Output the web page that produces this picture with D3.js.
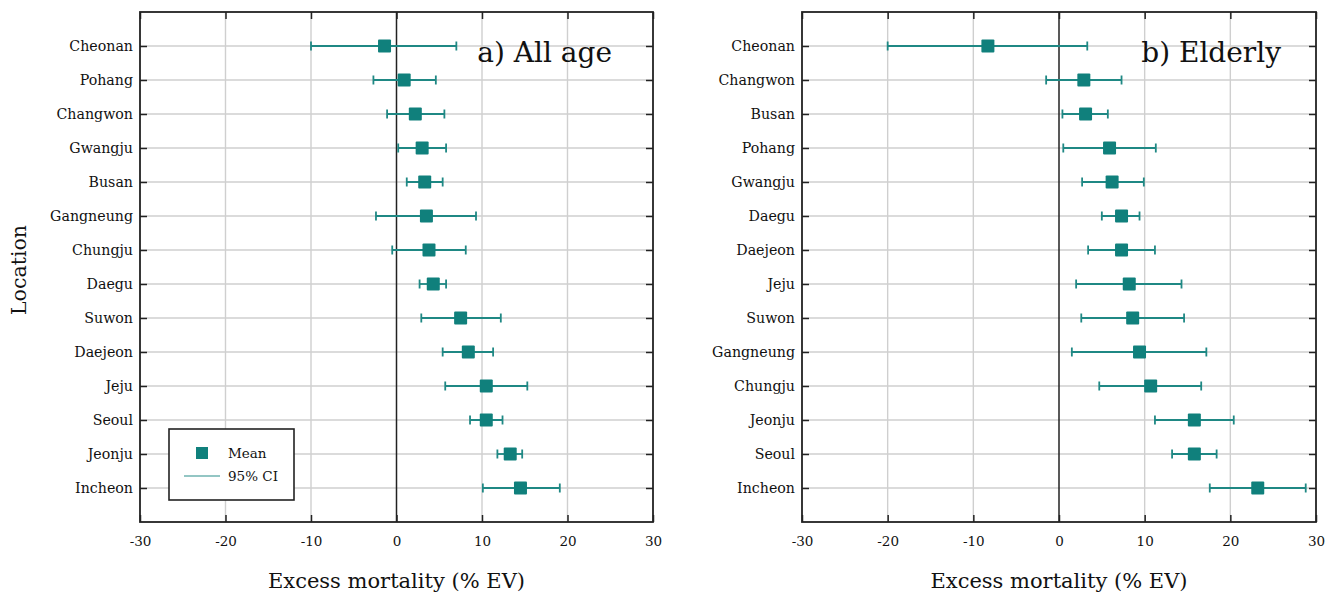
<!DOCTYPE html>
<html>
<head>
<meta charset="utf-8">
<script src="https://cdn.jsdelivr.net/npm/d3@7"></script>
<style>
  html, body { margin: 0; padding: 0; background: #fff; }
  svg { display: block; }
  text { font-family: "DejaVu Serif", "Liberation Serif", serif; fill: #111; }
</style>
</head>
<body>
<svg id="chart" width="1338" height="597"></svg>
<script>
// ---- Data ----
const xTicks = [-30, -20, -10, 0, 10, 20, 30];

const allAgeLocations = ["Cheonan", "Pohang", "Changwon", "Gwangju", "Busan", "Gangneung", "Chungju",
                         "Daegu", "Suwon", "Daejeon", "Jeju", "Seoul", "Jeonju", "Incheon"];
const allAgeMean  = [-1.4, 0.9, 2.2, 3.0, 3.3, 3.5, 3.8, 4.3, 7.5, 8.4, 10.5, 10.5, 13.3, 14.5];
const allAgeLower = [-10.0, -2.7, -1.1, 0.2, 1.2, -2.4, -0.5, 2.7, 2.9, 5.4, 5.7, 8.6, 11.8, 10.1];
const allAgeUpper = [7.0, 4.6, 5.6, 5.8, 5.4, 9.3, 8.1, 5.8, 12.2, 11.3, 15.3, 12.4, 14.7, 19.1];

const elderlyLocations = ["Cheonan", "Changwon", "Busan", "Pohang", "Gwangju", "Daegu", "Daejeon",
                          "Jeju", "Suwon", "Gangneung", "Chungju", "Jeonju", "Seoul", "Incheon"];
const elderlyMean  = [-8.3, 2.9, 3.1, 5.9, 6.2, 7.3, 7.3, 8.2, 8.6, 9.4, 10.7, 15.8, 15.8, 23.2];
const elderlyLower = [-20.0, -1.5, 0.4, 0.5, 2.7, 5.0, 3.4, 2.0, 2.6, 1.5, 4.7, 11.2, 13.2, 17.6];
const elderlyUpper = [3.3, 7.3, 5.7, 11.3, 9.9, 9.4, 11.2, 14.3, 14.6, 17.2, 16.6, 20.4, 18.4, 28.8];

const panelTitles = ["a) All age", "b) Elderly"];
const xTitle = "Excess mortality (% EV)";
const yTitle = "Location";
const legendLabels = ["Mean", "95% CI"];

// ---- Styling ----
const teal = "#10807c";
const tealLine = "#1f8884";
const gridColor = "#cfcfcf";
const svg = d3.select("#chart");

const panels = [
  { left: 140, right: 653, names: allAgeLocations, mean: allAgeMean, lo: allAgeLower, hi: allAgeUpper, title: panelTitles[0], titleOffset: 41, showY: true, legend: true },
  { left: 802, right: 1316, names: elderlyLocations, mean: elderlyMean, lo: elderlyLower, hi: elderlyUpper, title: panelTitles[1], titleOffset: 35, showY: false, legend: false }
];
const plotTop = 12, plotBottom = 522;

panels.forEach(p => {
  const x = d3.scaleLinear().domain([-30, 30]).range([p.left, p.right]);
  const y = d3.scalePoint().domain(p.names).range([plotTop, plotBottom]).padding(1);
  const g = svg.append("g");

  // vertical grid
  g.append("g").selectAll("line").data(xTicks.filter(t => t !== -30 && t !== 30 && t !== 0)).join("line")
    .attr("x1", d => x(d)).attr("x2", d => x(d)).attr("y1", plotTop).attr("y2", plotBottom)
    .attr("stroke", gridColor).attr("stroke-width", 1.4);
  // horizontal grid
  g.append("g").selectAll("line").data(p.names).join("line")
    .attr("x1", p.left).attr("x2", p.right).attr("y1", d => y(d)).attr("y2", d => y(d))
    .attr("stroke", gridColor).attr("stroke-width", 1.4);
  // zero line
  g.append("line").attr("x1", x(0)).attr("x2", x(0)).attr("y1", plotTop).attr("y2", plotBottom)
    .attr("stroke", "#222").attr("stroke-width", 1.5);

  // axes (inward ticks)
  const bottomAxis = d3.axisBottom(x).tickValues(xTicks).tickSize(-7).tickPadding(14)
    .tickFormat(d => d < 0 ? "-" + Math.abs(d) : String(d));
  const gb = g.append("g").attr("transform", `translate(0,${plotBottom})`).call(bottomAxis);
  gb.selectAll("text").attr("font-size", 13.5).attr("font-family", "DejaVu Serif").attr("fill", "#222");
  const gt = g.append("g").attr("transform", `translate(0,${plotTop})`)
    .call(d3.axisTop(x).tickValues(xTicks).tickSize(-7).tickFormat(""));
  const gl = g.append("g").attr("transform", `translate(${p.left},0)`)
    .call(d3.axisLeft(y).tickSize(-7).tickPadding(7));
  gl.selectAll("text").attr("font-size", 14.2).attr("font-family", "DejaVu Serif").attr("fill", "#111");
  const gr = g.append("g").attr("transform", `translate(${p.right},0)`)
    .call(d3.axisRight(y).tickSize(-7).tickFormat(""));
  [gb, gt, gl, gr].forEach(a => {
    a.select(".domain").remove();
    a.selectAll(".tick line").attr("stroke", "#222").attr("stroke-width", 1.5);
  });

  // frame
  g.append("rect").attr("x", p.left).attr("y", plotTop).attr("width", p.right - p.left).attr("height", plotBottom - plotTop)
    .attr("fill", "none").attr("stroke", "#222").attr("stroke-width", 1.8);

  // error bars
  const rows = p.names.map((n, i) => ({ n, m: p.mean[i], lo: p.lo[i], hi: p.hi[i] }));
  const eb = g.append("g").attr("stroke", tealLine).attr("stroke-width", 1.8);
  eb.selectAll(".bar").data(rows).join("line").attr("class", "bar")
    .attr("x1", d => x(d.lo)).attr("x2", d => x(d.hi)).attr("y1", d => y(d.n)).attr("y2", d => y(d.n));
  eb.selectAll(".capL").data(rows).join("line").attr("class", "capL")
    .attr("x1", d => x(d.lo)).attr("x2", d => x(d.lo)).attr("y1", d => y(d.n) - 4.5).attr("y2", d => y(d.n) + 4.5);
  eb.selectAll(".capR").data(rows).join("line").attr("class", "capR")
    .attr("x1", d => x(d.hi)).attr("x2", d => x(d.hi)).attr("y1", d => y(d.n) - 4.5).attr("y2", d => y(d.n) + 4.5);
  // markers
  const s = 13;
  g.append("g").selectAll("rect").data(rows).join("rect")
    .attr("x", d => x(d.m) - s / 2).attr("y", d => y(d.n) - s / 2).attr("width", s).attr("height", s)
    .attr("rx", 1).attr("fill", teal);

  // panel title
  g.append("text").attr("x", p.right - p.titleOffset).attr("y", 62).attr("text-anchor", "end")
    .attr("font-size", 28).text(p.title);

  // x title
  g.append("text").attr("x", x(0)).attr("y", 588).attr("text-anchor", "middle")
    .attr("font-size", 21).text(xTitle);

  if (p.showY) {
    g.append("text").attr("transform", `translate(26,270) rotate(-90)`)
      .attr("text-anchor", "middle").attr("font-size", 20.5).text(yTitle);
  }

  if (p.legend) {
    const lg = g.append("g");
    lg.append("rect").attr("x", 169).attr("y", 429).attr("width", 125).attr("height", 71)
      .attr("fill", "#fff").attr("stroke", "#222").attr("stroke-width", 1.6);
    lg.append("rect").attr("x", 196).attr("y", 447).attr("width", 12).attr("height", 12).attr("fill", teal);
    lg.append("line").attr("x1", 184).attr("x2", 220).attr("y1", 476).attr("y2", 476)
      .attr("stroke", "#6fb3b1").attr("stroke-width", 1.5);
    lg.append("text").attr("x", 228).attr("y", 458).attr("font-size", 13.5).text(legendLabels[0]);
    lg.append("text").attr("x", 228).attr("y", 481).attr("font-size", 13.5).text(legendLabels[1]);
  }
});
</script>
</body>
</html>
